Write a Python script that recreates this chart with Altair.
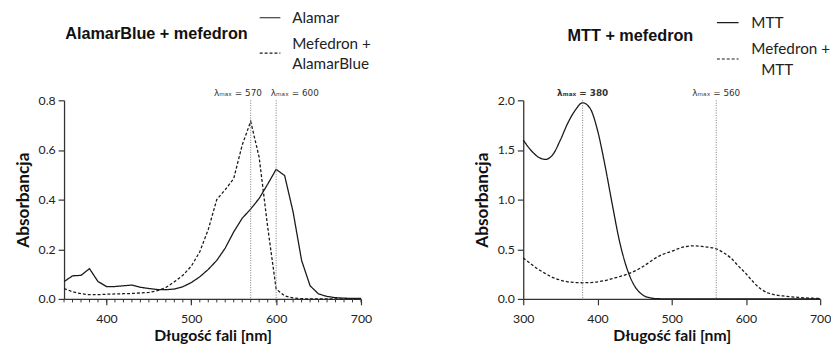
import altair as alt
import pandas as pd

# ---------------- data ----------------
left_nm = list(range(350, 701, 10))
alamar = [0.070, 0.093, 0.095, 0.122, 0.070, 0.050, 0.050, 0.053, 0.056, 0.047,
          0.042, 0.038, 0.037, 0.040, 0.049, 0.066, 0.089, 0.119, 0.155, 0.205,
          0.270, 0.325, 0.362, 0.405, 0.462, 0.522, 0.497, 0.350, 0.155, 0.053,
          0.020, 0.010, 0.005, 0.003, 0.002, 0.002]
mefedron_alamar = [0.042, 0.029, 0.021, 0.017, 0.017, 0.019, 0.020, 0.021, 0.022, 0.024,
                   0.026, 0.033, 0.046, 0.069, 0.095, 0.132, 0.190, 0.280, 0.400, 0.440,
                   0.485, 0.620, 0.715, 0.570, 0.290, 0.040, 0.012, 0.004, 0.001, 0.0,
                   0.0, 0.0, 0.0, 0.0, 0.0, 0.0]

right_nm = list(range(300, 701, 10))
mtt = [1.60, 1.50, 1.43, 1.405, 1.455, 1.60, 1.77, 1.90, 1.975, 1.92,
       1.70, 1.35, 0.95, 0.57, 0.30, 0.13, 0.045, 0.012, 0.003, 0.001,
       0.0, 0.0, 0.0, 0.0, 0.0, 0.0, 0.0, 0.0, 0.0, 0.0,
       0.0, 0.0, 0.0, 0.0, 0.0, 0.0, 0.0, 0.0, 0.0, 0.0, 0.0]
mefedron_mtt = [0.413, 0.355, 0.300, 0.255, 0.215, 0.190, 0.172, 0.165, 0.163, 0.165,
                0.172, 0.185, 0.205, 0.225, 0.250, 0.280, 0.320, 0.370, 0.420, 0.455,
                0.480, 0.510, 0.528, 0.535, 0.530, 0.520, 0.505, 0.465, 0.410, 0.330,
                0.255, 0.170, 0.100, 0.060, 0.040, 0.030, 0.022, 0.016, 0.011, 0.007, 0.004]

left_series = ["Alamar", "Mefedron + AlamarBlue"]
right_series = ["MTT", "Mefedron + MTT"]
left_lambda = [570, 600]
right_lambda = [380, 560]
left_lambda_text = ["λₘₐₓ = 570", "λₘₐₓ = 600"]
right_lambda_text = ["λₘₐₓ = 380", "λₘₐₓ = 560"]
left_xticks = [400, 500, 600, 700]
left_minor_ticks = list(range(350, 701, 10))
right_xticks = [300, 400, 500, 600, 700]
left_yticks = [0.0, 0.2, 0.4, 0.6, 0.8]
right_yticks = [0.0, 0.5, 1.0, 1.5, 2.0]
left_legend_text = [["Alamar"], ["Mefedron +", "AlamarBlue"]]
right_legend_text = [["MTT"], ["Mefedron +", "MTT"]]
titles = ["AlamarBlue + mefedron", "MTT + mefedron"]
x_title = "Długość fali [nm]"
y_title = "Absorbancja"

# ---------------- style ----------------
W, H = 302, 202
AX = "#333333"
LINE = "#1a1a1a"
DASHES = [[1, 0], [3, 2]]


def xaxis(values):
    return alt.Axis(values=values, title=x_title, format="d", grid=False,
                    labelFlush=False, labelOverlap=False, tickSize=6, tickWidth=1.2,
                    tickColor=AX, domainColor=AX, domainWidth=1.3,
                    labelFont="Lato", labelFontSize=12.5, labelColor="#222",
                    labelPadding=8, titleFont="Lato", titleFontSize=16,
                    titleFontWeight="bold", titleColor="#111", titlePadding=3)


def yaxis(values):
    return alt.Axis(values=values, title=y_title, format=".1f", grid=False,
                    labelFlush=False, labelOverlap=False, tickSize=6, tickWidth=1.2,
                    tickColor=AX, domainColor=AX, domainWidth=1.3,
                    labelFont="Lato", labelFontSize=12.5, labelColor="#222",
                    labelPadding=3, titleFont="Lato", titleFontSize=17.5,
                    titleFontWeight="bold", titleColor="#111", titlePadding=6)


def text_layer(s, x, y, size, font, weight="normal", align="left", color="#222"):
    return alt.Chart(pd.DataFrame({"t": [s]})).mark_text(
        fontSize=size, font=font, fontWeight=weight, align=align,
        baseline="middle", color=color).encode(
        text="t:N", x=alt.value(x), y=alt.value(y))


def panel(nm, s1, s2, names, xdom, ydom, xticks, yticks, lam, lam_text, lam_dx,
          lam_weight, title, title_xy, legend_text, legend_pos, interp, minor=None,
          anchor=False):
    n = len(nm)
    xscale = alt.Scale(domain=xdom, nice=False, zero=False)
    xa = xaxis(xticks)

    def X():
        return alt.X("nm:Q", scale=xscale, axis=xa)

    df = pd.DataFrame({"nm": nm + nm, "a": s1 + s2,
                       "s": [names[0]] * n + [names[1]] * n})
    lines = alt.Chart(df).mark_line(interpolate=interp, strokeWidth=1.3,
                                    color=LINE).encode(
        x=X(),
        y=alt.Y("a:Q", scale=alt.Scale(domain=ydom, nice=False), axis=yaxis(yticks)),
        strokeDash=alt.StrokeDash("s:N", scale=alt.Scale(domain=names, range=DASHES),
                                  legend=None),
    )
    layers = [lines]
    rules = alt.Chart(pd.DataFrame({"nm": lam})).mark_rule(
        color="#777", strokeDash=[1, 1.5], strokeWidth=1).encode(
        x=X(), y=alt.value(0), y2=alt.value(H))
    layers.append(rules)
    for v, t, dx, wt in zip(lam, lam_text, lam_dx, lam_weight):
        layers.append(alt.Chart(pd.DataFrame({"nm": [v], "t": [t]})).mark_text(
            fontSize=9, font="DejaVu Sans", fontWeight=wt, dx=dx, baseline="middle",
            align="center", color="#333").encode(
            x=X(), y=alt.value(-7), text="t:N"))
    if minor is not None:
        layers.append(alt.Chart(pd.DataFrame({"nm": minor})).mark_rule(
            color=AX, strokeWidth=1).encode(
            x=X(), y=alt.value(H), y2=alt.value(H + 3.5)))
    # title
    layers.append(text_layer(title, title_xy[0], title_xy[1], 16.5,
                             "Liberation Sans", "bold", "center", "#111"))
    # legend
    for k, (lines_txt, pos) in enumerate(zip(legend_text, legend_pos)):
        sx0, sx1, sy, tys, txs = pos
        layers.append(alt.Chart(pd.DataFrame({"s": [names[k]]})).mark_rule(
            color=LINE, strokeWidth=1.2, strokeDash=DASHES[k]).encode(
            x=alt.value(sx0), x2=alt.value(sx1), y=alt.value(sy)))
        for line_txt, ty, txx in zip(lines_txt, tys, txs):
            layers.append(text_layer(line_txt, txx, ty, 15.5, "Lato"))
    if anchor:
        # invisible layout anchor fixing the top-left corner of the page
        layers.append(alt.Chart(pd.DataFrame({"s": ["anchor"]})).mark_rule(
            strokeOpacity=0, strokeWidth=1).encode(
            x=alt.value(-53), x2=alt.value(-52), y=alt.value(-91)))
    return alt.layer(*layers).properties(width=W, height=H)


left = panel(left_nm, alamar, mefedron_alamar, left_series, [350, 700], [0, 0.8],
             left_xticks, left_yticks, left_lambda, left_lambda_text, [-13, 19],
             ["normal", "normal"], titles[0], (94, -67), left_legend_text,
             [(199, 220, -84, [-84], [232]),
              (199, 220, -48, [-57, -37], [232, 232])],
             "linear", minor=left_minor_ticks, anchor=True)

right = panel(right_nm, mtt, mefedron_mtt, right_series, [300, 700], [0, 2.0],
              right_xticks, right_yticks, right_lambda, right_lambda_text, [0, 0],
              ["bold", "normal"], titles[1], (109, -65), right_legend_text,
              [(197, 219, -79, [-79], [232]),
               (197, 219, -42, [-52, -31], [232, 242])],
              "monotone")

chart = alt.hconcat(left, right, spacing=165, bounds="flush").properties(
    padding={"left": 4, "top": 0, "right": 0, "bottom": 0}
).configure_view(stroke=None)

chart.save("out.html", embed_options={"renderer": "svg", "actions": False})
